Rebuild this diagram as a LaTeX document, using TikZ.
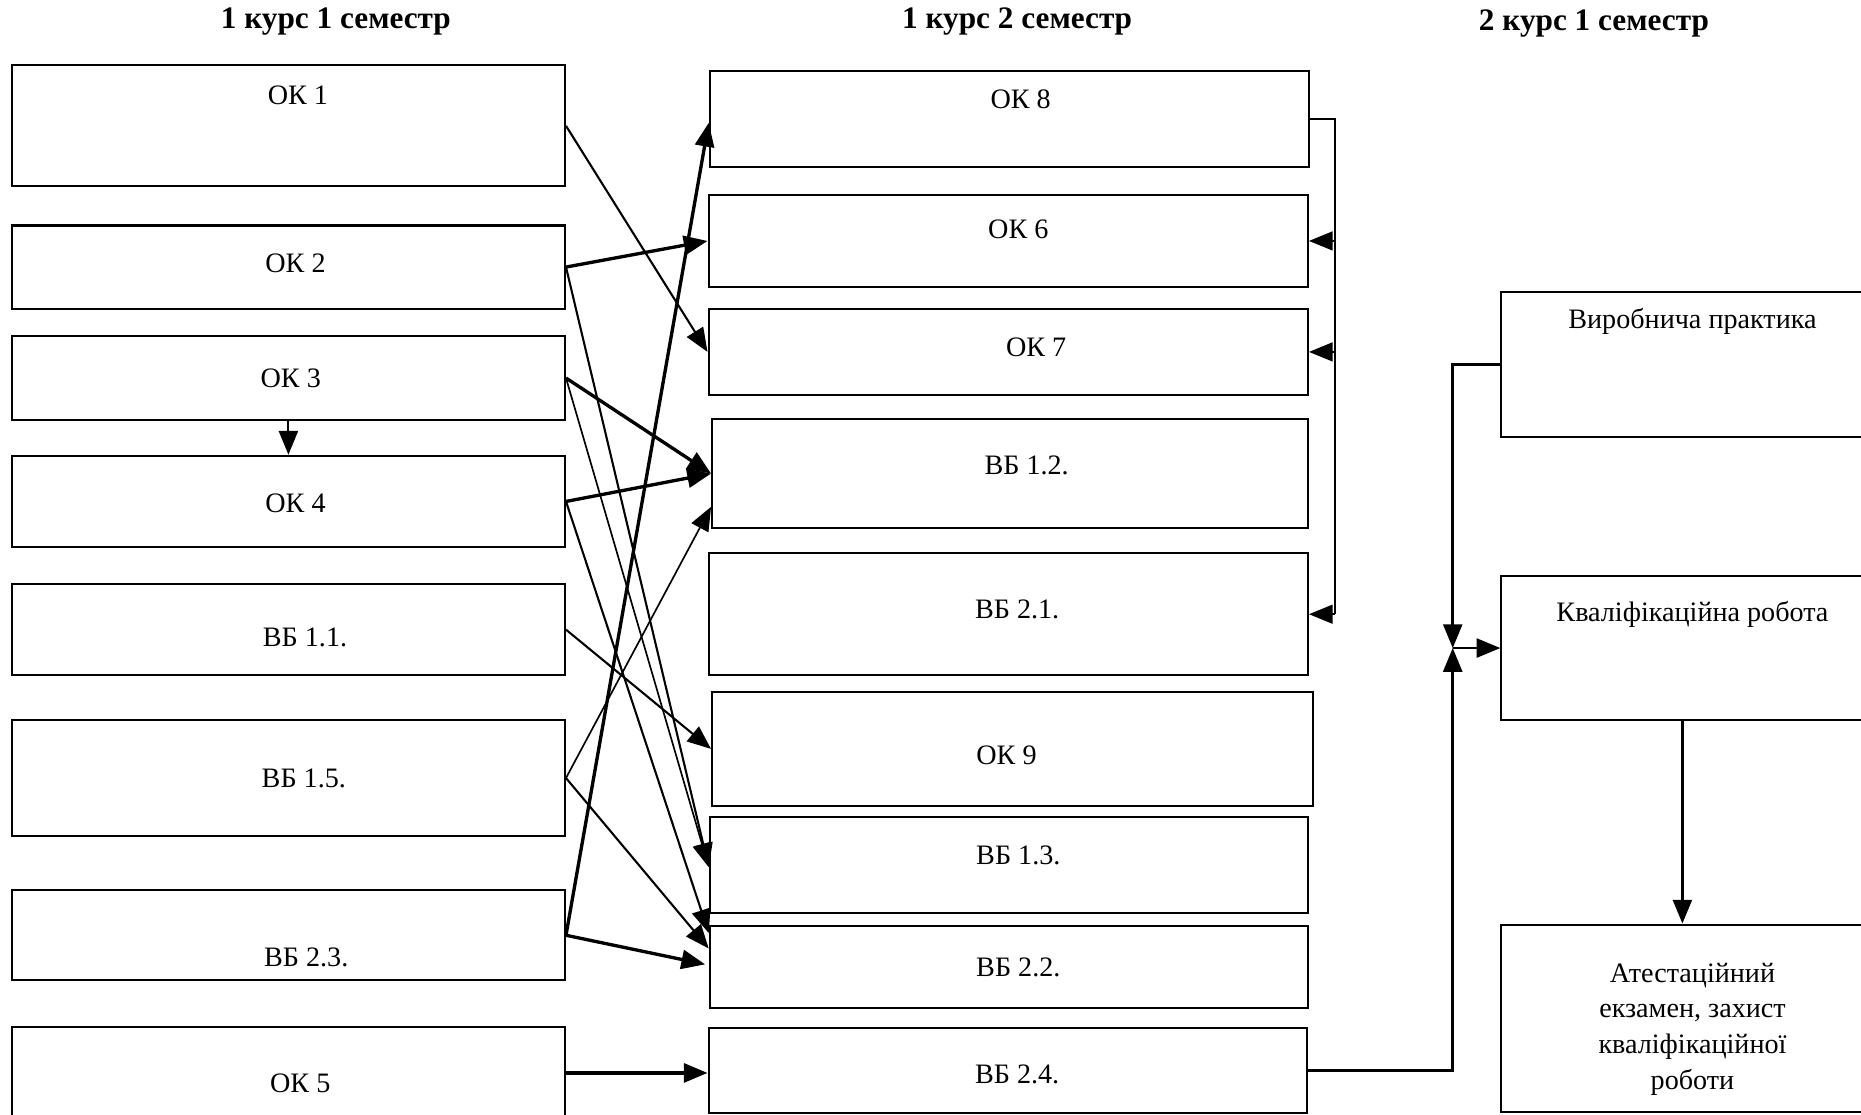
\documentclass[tikz,border=0pt]{standalone}
\usepackage{fontspec}
\setmainfont{Liberation Serif}
\usetikzlibrary{arrows.meta,calc,fit}
\begin{document}
\begin{tikzpicture}[x=0.02cm,y=-0.02cm,
  box/.style={draw, line width=1pt, inner sep=0pt},
  txt/.style={inner sep=0pt, font=\fontsize{13.5}{16}\selectfont},
  ttl/.style={inner sep=0pt, font=\bfseries\fontsize{15}{18}\selectfont},
  ar/.style={-{Triangle[length=4mm,width=3.2mm]}, line width=1pt},
  thk/.style={line width=1.6pt},
  thn/.style={line width=0.8pt},
  conn/.style={line width=1.2pt}]
\clip (0,0) rectangle (1568,938.6);
\fill[white] (0,0) rectangle (1568,938.6);
% titles
\node[ttl] (t1) at (283,18) {1 курс 1 семестр};
\node[ttl] (t2) at (857,18) {1 курс 2 семестр};
\node[ttl] (t3) at (1343,20) {2 курс 1 семестр};
% left column
\node[box, fit={(10,55) (476,157)}] (ok1) {};
\node[box, fit={(10,190) (476,260)}] (ok2) {};
\node[box, fit={(10,283) (476,354)}] (ok3) {};
\node[box, fit={(10,384) (476,461)}] (ok4) {};
\node[box, fit={(10,492) (476,569)}] (vb11) {};
\node[box, fit={(10,607) (476,704)}] (vb15) {};
\node[box, fit={(10,750) (476,826)}] (vb23) {};
\node[box, fit={(10,865) (476,943)}] (ok5) {};
\node[txt] (ok1t) at (251,80) {ОК 1};
\node[txt] (ok2t) at (249,222) {ОК 2};
\node[txt] (ok3t) at (245,319) {ОК 3};
\node[txt] (ok4t) at (249,424) {ОК 4};
\node[txt] (vb11t) at (257,537) {ВБ 1.1.};
\node[txt] (vb15t) at (256,656) {ВБ 1.5.};
\node[txt] (vb23t) at (258,807) {ВБ 2.3.};
\node[txt] (ok5t) at (253,913) {ОК 5};
% middle column
\node[box, fit={(598,60) (1103,141)}] (ok8) {};
\node[box, fit={(597,164) (1102,242)}] (ok6) {};
\node[box, fit={(597,260) (1102,333)}] (ok7) {};
\node[box, fit={(600,353) (1102,445)}] (vb12) {};
\node[box, fit={(597,466) (1102,569)}] (vb21) {};
\node[box, fit={(600,583) (1106,679)}] (ok9) {};
\node[box, fit={(598,688) (1102,769)}] (vb13) {};
\node[box, fit={(598,780) (1102,849)}] (vb22) {};
\node[box, fit={(597,866) (1101,938)}] (vb24) {};
\node[txt] (ok8t) at (860,84) {ОК 8};
\node[txt] (ok6t) at (858,193) {ОК 6};
\node[txt] (ok7t) at (873,293) {ОК 7};
\node[txt] (vb12t) at (865,392) {ВБ 1.2.};
\node[txt] (vb21t) at (857,513) {ВБ 2.1.};
\node[txt] (ok9t) at (848,636) {ОК 9};
\node[txt] (vb13t) at (858,721) {ВБ 1.3.};
\node[txt] (vb22t) at (858,815) {ВБ 2.2.};
\node[txt] (vb24t) at (857,905) {ВБ 2.4.};
% right column
\node[box, fit={(1265,246) (1570,368)}] (vyr) {};
\node[box, fit={(1265,485) (1570,607)}] (kv) {};
\node[box, fit={(1265,779) (1570,937)}] (at) {};
\node[txt] (vyrt) at (1426,271) {Виробнича практика};
\node[txt] (kvt) at (1426,518) {Кваліфікаційна робота};
\node[txt, align=center, font=\fontsize{13.5}{17.07}\selectfont] (att) at (1426,867)
  {Атестаційний\\екзамен, захист\\кваліфікаційної\\роботи};
% left-to-middle connectors
\draw[ar] (ok1.east) -- (ok7.west);
\draw[ar, thk] (ok2.east) -- (ok6.west);
\draw[ar] (ok2.east) -- ($(vb13.west)+(0,2)$);
\draw[ar, thk] (ok3.east) -- (vb12.west);
\draw[ar, thn] (ok3.east) -- ($(vb13.west)+(0,2)$);
\draw[ar] (ok3.south) -- (ok4.north);
\draw[ar, thk] (ok4.east) -- (vb12.west);
\draw[ar] (ok4.east) -- ($(vb22.north west)+(0,7)$);
\draw[ar] (vb11.east) -- (ok9.west);
\draw[ar, thn] (vb15.east) -- ($(vb12.west)+(0,28)$);
\draw[ar] (vb15.east) -- ($(vb22.north west)+(0,20)$);
\draw[ar, thk] (vb23.east) -- ($(ok8.west)+(0,3)$);
\draw[ar, thk] (vb23.east) -- ($(vb22.west)+(-3,-2)$);
\draw[ar, thk] (ok5.east) -- (ok5.east -| vb24.west);
% middle right bus
\coordinate (busA) at (1125,0);
\draw[thn] (ok8.east) -| (busA |- vb21.east);
\draw[ar, thn] (busA |- vb21.east) -- (vb21.east);
\draw[ar, thn] (busA |- ok6.east) -- (ok6.east);
\draw[ar, thn] (busA |- ok7.east) -- (ok7.east);
% right column connectors
\coordinate (busB) at (1224,0);
\coordinate (junc) at (busB |- kv.west);
\draw[ar, conn] (vyr.west) -| (junc);
\draw[ar, conn] (vb24.east) -| (junc);
\draw[ar, conn] (junc) -- (kv.west);
\draw[ar, conn] (kv.south -| at.north) -- (at.north);
\end{tikzpicture}
\end{document}
